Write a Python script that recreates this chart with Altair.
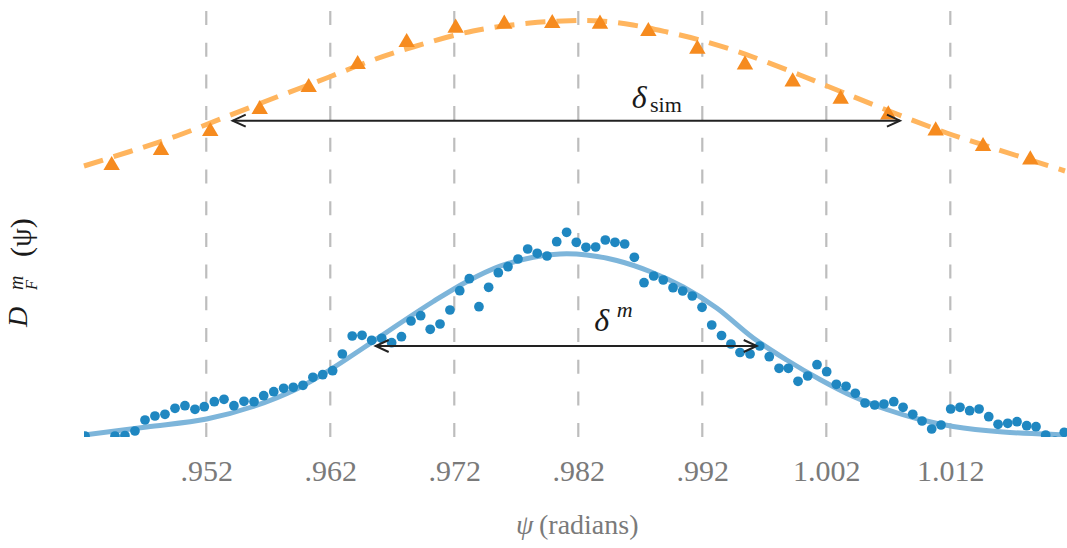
import altair as alt
import pandas as pd

# ---------------- data ----------------
tick_values = [0.952, 0.962, 0.972, 0.982, 0.992, 1.002, 1.012]

meas_x = [0.94222, 0.94302, 0.94383, 0.94464, 0.94544, 0.94625, 0.94706, 0.94786, 0.94867, 0.94948,
          0.95028, 0.95109, 0.95184, 0.95265, 0.95343, 0.95423, 0.95504, 0.95585, 0.95663, 0.95744,
          0.95824, 0.95902, 0.95980, 0.96060, 0.96139, 0.96219, 0.96297, 0.96377, 0.96456, 0.96534,
          0.96615, 0.96695, 0.96774, 0.96851, 0.96929, 0.97006, 0.97085, 0.97165, 0.97244, 0.97321,
          0.97399, 0.97477, 0.97555, 0.97633, 0.97714, 0.97792, 0.97869, 0.97948, 0.98026, 0.98106,
          0.98184, 0.98262, 0.98340, 0.98418, 0.98496, 0.98574, 0.98652, 0.98730, 0.98808, 0.98885,
          0.98964, 0.99042, 0.99119, 0.99198, 0.99276, 0.99355, 0.99431, 0.99504, 0.99585, 0.99663,
          0.99740, 0.99819, 0.99894, 0.99972, 1.00050, 1.00125, 1.00203, 1.00281, 1.00359, 1.00434,
          1.00512, 1.00590, 1.00665, 1.00744, 1.00819, 1.00897, 1.00972, 1.01050, 1.01125, 1.01203,
          1.01278, 1.01356, 1.01432, 1.01510, 1.01585, 1.01663, 1.01738, 1.01816, 1.01891, 1.01969,
          1.02044, 1.02119]
meas_y = [0.01, -0.06, -0.06, 0.01, 0.015, 0.06, 0.17, 0.21, 0.227, 0.287,
          0.313, 0.277, 0.303, 0.353, 0.377, 0.313, 0.357, 0.353, 0.413, 0.453,
          0.487, 0.497, 0.517, 0.597, 0.623, 0.663, 0.83, 1.01, 1.017, 0.967,
          0.987, 0.943, 1.003, 1.16, 1.213, 1.077, 1.13, 1.27, 1.463, 1.583,
          1.303, 1.497, 1.643, 1.703, 1.78, 1.88, 1.837, 1.81, 1.953, 2.047,
          1.947, 1.897, 1.90, 1.97, 1.947, 1.93, 1.797, 1.543, 1.61, 1.57,
          1.493, 1.46, 1.41, 1.297, 1.12, 1.015, 0.93, 0.845, 0.83, 0.91,
          0.803, 0.687, 0.687, 0.557, 0.61, 0.723, 0.653, 0.527, 0.507, 0.437,
          0.34, 0.32, 0.33, 0.353, 0.297, 0.227, 0.16, 0.08, 0.12, 0.28,
          0.297, 0.263, 0.28, 0.203, 0.127, 0.137, 0.153, 0.113, 0.103, 0.02,
          -0.04, 0.047]

fit_x = [0.94214, 0.94719, 0.95203, 0.95579, 0.95929, 0.96198, 0.96466, 0.96735, 0.97031,
         0.97300, 0.97569, 0.97837, 0.98052, 0.98268, 0.98510, 0.98778, 0.99047, 0.99316,
         0.99611, 0.99881, 1.00149, 1.00418, 1.00687, 1.00956, 1.01224, 1.01627, 1.02125]
fit_y = [0.02, 0.10, 0.18, 0.305, 0.48, 0.672, 0.89, 1.115, 1.355,
         1.553, 1.708, 1.797, 1.83, 1.82, 1.765, 1.655, 1.50, 1.29,
         0.99, 0.77, 0.575, 0.405, 0.275, 0.175, 0.105, 0.05, 0.02]

sim_x = [0.94437, 0.94835, 0.95232, 0.95631, 0.96026, 0.96421, 0.96816, 0.97211, 0.97603, 0.97990,
         0.98375, 0.98765, 0.99160, 0.99544, 0.99929, 1.00316, 1.00700, 1.01082, 1.01464, 1.01845]
sim_y = [2.74, 2.89, 3.08, 3.30, 3.52, 3.75, 3.97, 4.113, 4.153, 4.16,
         4.153, 4.08, 3.903, 3.747, 3.577, 3.403, 3.247, 3.087, 2.93, 2.797]

simfit_x = [0.94214, 0.94585, 0.94961, 0.95335, 0.95768, 0.96171, 0.96544, 0.96867, 0.97351,
            0.97810, 0.98133, 0.98375, 0.98641, 0.98915, 0.99181, 0.99423, 0.99609, 0.99988,
            1.00365, 1.00768, 1.01171, 1.01544, 1.02125]
simfit_y = [2.71, 2.855, 3.01, 3.19, 3.40, 3.59, 3.77, 3.90, 4.06,
            4.14, 4.163, 4.16, 4.12, 4.05, 3.97, 3.88, 3.80, 3.62,
            3.43, 3.23, 3.04, 2.89, 2.66]

arrow_x1 = [0.95413, 0.96566]
arrow_x2 = [1.00794, 0.99639]
arrow_y = [3.163, 0.91]

lab_italic_text = ["δ", "δ", "m"]
lab_italic_x = [0.98631, 0.98329, 0.98510]
lab_italic_y = [3.29, 1.06, 1.20]
lab_italic_size = [32, 32, 22]
lab_up_text = ["sim"]
lab_up_x = [0.98778]
lab_up_y = [3.25]
lab_up_size = [22]

# ---------------- chart ----------------
FONT = "Liberation Serif"
W, H = 983, 426

xscale = alt.Scale(domain=[0.94214, 1.02141], nice=False, zero=False)
yscale = alt.Scale(domain=[0, 4.26], nice=False, zero=False)
xaxis = alt.Axis(values=tick_values, title=None, grid=False, ticks=False, tickSize=0,
                 domain=False, labelFont=FONT, labelFontSize=30, labelColor="#7a7a7a",
                 labelPadding=19,
                 labelExpr="datum.value < 1 ? substring(format(datum.value, '.3f'), 1) : format(datum.value, '.3f')")

def X(field="x"):
    return alt.X(f"{field}:Q", scale=xscale, axis=xaxis)

def Y(field="y"):
    return alt.Y(f"{field}:Q", scale=yscale, axis=None)

grid_df = pd.DataFrame({"x": tick_values})
meas_df = pd.DataFrame({"x": meas_x, "y": meas_y})
fit_df = pd.DataFrame({"x": fit_x, "y": fit_y})
sim_df = pd.DataFrame({"x": sim_x, "y": sim_y})
simfit_df = pd.DataFrame({"x": simfit_x, "y": simfit_y})
arrow_df = pd.DataFrame({"x": arrow_x1, "x2": arrow_x2, "y": arrow_y})
left_df = pd.DataFrame({"x": arrow_x1, "y": arrow_y})
right_df = pd.DataFrame({"x": arrow_x2, "y": arrow_y})
it_df = pd.DataFrame({"x": lab_italic_x, "y": lab_italic_y, "t": lab_italic_text, "s": lab_italic_size})
up_df = pd.DataFrame({"x": lab_up_x, "y": lab_up_y, "t": lab_up_text, "s": lab_up_size})
one = pd.DataFrame({"k": [0]})

grid = alt.Chart(grid_df).mark_rule(color="#bdbdbd", strokeWidth=2.2, strokeDash=[14, 17.7]).encode(
    x=X(), y=alt.value(0), y2=alt.value(H))

simfit = alt.Chart(simfit_df).mark_line(color="#ffb55e", strokeWidth=5, strokeDash=[20, 11],
                                        interpolate="catmull-rom").encode(x=X(), y=Y())
sim = alt.Chart(sim_df).mark_point(shape="triangle-up", filled=True, size=270, color="#f68b1f",
                                   opacity=1).encode(x=X(), y=Y())
fit = alt.Chart(fit_df).mark_line(color="#7db5da", strokeWidth=5, interpolate="catmull-rom",
                                  clip=True).encode(x=X(), y=Y())
meas = alt.Chart(meas_df).mark_circle(size=95, color="#1f87c1", opacity=1, clip=True).encode(
    x=X(), y=Y())

arrows = alt.Chart(arrow_df).mark_rule(color="#222222", strokeWidth=2).encode(
    x=X(), x2="x2:Q", y=Y())
lhead = alt.Chart(left_df).mark_point(shape="M2.17,-1L0,0L2.17,1", size=144, filled=False,
                                      color="#222222", strokeWidth=2, opacity=1).encode(x=X(), y=Y())
rhead = alt.Chart(right_df).mark_point(shape="M-2.17,-1L0,0L-2.17,1", size=144, filled=False,
                                       color="#222222", strokeWidth=2, opacity=1).encode(x=X(), y=Y())

lab_it = alt.Chart(it_df).mark_text(font=FONT, fontStyle="italic", align="left",
                                    baseline="alphabetic", color="#1a1a1a").encode(
    x=X(), y=Y(), text="t:N", size=alt.Size("s:Q", scale=None, legend=None))
lab_up = alt.Chart(up_df).mark_text(font=FONT, align="left", baseline="alphabetic",
                                    color="#1a1a1a").encode(
    x=X(), y=Y(), text="t:N", size=alt.Size("s:Q", scale=None, legend=None))

xt1 = alt.Chart(one).mark_text(text="ψ", font=FONT, fontStyle="italic", fontSize=28, align="left",
                               baseline="alphabetic", color="#7a7a7a").encode(
    x=alt.value(432), y=alt.value(523))
xt2 = alt.Chart(one).mark_text(text="(radians)", font=FONT, fontSize=28, align="left",
                               baseline="alphabetic", color="#7a7a7a").encode(
    x=alt.value(455), y=alt.value(523))

def ytxt(t, x, y, size, italic=True, color="#1a1a1a"):
    kw = dict(text=t, font=FONT, fontSize=size, align="left", baseline="alphabetic",
              angle=270, color=color)
    if italic:
        kw["fontStyle"] = "italic"
    return alt.Chart(one).mark_text(**kw).encode(x=alt.value(x), y=alt.value(y),
                                                 angle=alt.value(270))

yt = [ytxt("D", -57, 316, 28), ytxt("m", -61, 279, 20), ytxt("F", -47, 279, 16),
      ytxt("(ψ)", -53, 246, 30, italic=False)]

chart = alt.layer(grid, simfit, sim, fit, meas, arrows, lhead, rhead, lab_it, lab_up,
                  xt1, xt2, *yt).properties(
    width=W, height=H,
    autosize=alt.AutoSizeParams(type="none"),
    padding={"left": 84, "top": 11, "right": 0, "bottom": 111},
    background="white",
).configure_view(stroke=None)

chart.save("out.html", embed_options={"renderer": "svg", "actions": False})
